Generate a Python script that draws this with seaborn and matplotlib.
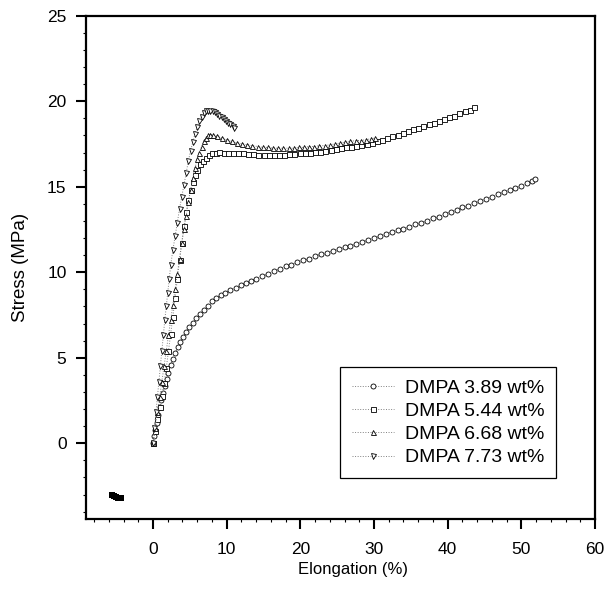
import pandas as pd
import seaborn as sns
import matplotlib
import matplotlib.pyplot as plt
from matplotlib.ticker import MultipleLocator

# Use a non-interactive backend
matplotlib.use('Agg')

sns.set_style('ticks')
plt.rcParams['font.family'] = ['Liberation Sans', 'DejaVu Sans']
plt.rcParams['text.color'] = 'black'
plt.rcParams['axes.labelcolor'] = 'black'

# Stress-strain data (elongation %, stress MPa)
x_389 = [0, 0.15, 0.3, 0.5, 0.7, 0.9, 1.1, 1.35, 1.6, 1.85, 2.1, 2.4, 2.7, 3.0, 3.35, 3.7, 4.1, 4.5, 4.95, 5.4,
         5.9, 6.4, 6.9, 7.45, 8.0, 8.6, 9.2, 9.8, 10.5, 11.2, 11.9, 12.6, 13.3, 14.0, 14.8, 15.6, 16.4, 17.2, 18.0, 18.8,
         19.6, 20.4, 21.2, 22.0, 22.8, 23.6, 24.4, 25.2, 26.0, 26.8, 27.6, 28.4, 29.2, 30.0, 30.8, 31.6, 32.4, 33.2, 34.0, 34.8,
         35.6, 36.4, 37.2, 38.0, 38.8, 39.6, 40.4, 41.2, 42.0, 42.8, 43.6, 44.4, 45.2, 46.0, 46.8, 47.6, 48.4, 49.2, 50.0, 50.8,
         51.5, 51.9]
y_389 = [0, 0.4, 0.75, 1.2, 1.65, 2.1, 2.5, 2.95, 3.35, 3.75, 4.1, 4.55, 4.9, 5.25, 5.6, 5.9, 6.2, 6.5, 6.8, 7.05,
         7.3, 7.55, 7.8, 8.05, 8.3, 8.5, 8.65, 8.8, 8.95, 9.1, 9.25, 9.35, 9.5, 9.6, 9.75, 9.9, 10.05, 10.2, 10.35, 10.45,
         10.6, 10.7, 10.8, 10.95, 11.05, 11.15, 11.25, 11.35, 11.45, 11.55, 11.65, 11.75, 11.9, 12.0, 12.1, 12.25, 12.35, 12.45, 12.55, 12.65,
         12.8, 12.9, 13.0, 13.15, 13.25, 13.4, 13.55, 13.65, 13.8, 13.9, 14.05, 14.15, 14.3, 14.4, 14.55, 14.7, 14.8, 14.95, 15.05, 15.2,
         15.35, 15.45]

x_544 = [0, 0.3, 0.6, 0.9, 1.2, 1.5, 1.8, 2.1, 2.4, 2.7, 3.0, 3.3, 3.6, 3.9, 4.2, 4.5, 4.8, 5.1, 5.4, 5.7,
         6.0, 6.4, 6.8, 7.2, 7.6, 8.0, 8.5, 9.0, 9.6, 10.2, 10.8, 11.5, 12.2, 12.9, 13.6, 14.3, 15.0, 15.7, 16.4, 17.1,
         17.8, 18.5, 19.2, 19.9, 20.6, 21.3, 22.0, 22.7, 23.4, 24.1, 24.8, 25.5, 26.2, 26.9, 27.6, 28.3, 29.0, 29.7, 30.4, 31.1,
         31.8, 32.5, 33.2, 33.9, 34.6, 35.3, 36.0, 36.7, 37.4, 38.1, 38.8, 39.5, 40.2, 40.9, 41.6, 42.3, 43.0, 43.6]
y_544 = [0, 0.7, 1.4, 2.1, 2.75, 3.5, 4.4, 5.4, 6.4, 7.4, 8.5, 9.6, 10.7, 11.7, 12.7, 13.5, 14.2, 14.8, 15.3, 15.7,
         16.0, 16.3, 16.5, 16.7, 16.85, 16.95, 17.0, 17.05, 17.0, 17.0, 17.0, 16.95, 16.95, 16.9, 16.9, 16.85, 16.85, 16.85, 16.85, 16.85,
         16.85, 16.9, 16.9, 16.95, 16.95, 17.0, 17.05, 17.05, 17.1, 17.15, 17.2, 17.25, 17.3, 17.35, 17.4, 17.45, 17.5, 17.55, 17.65, 17.75,
         17.85, 17.95, 18.05, 18.15, 18.25, 18.35, 18.45, 18.55, 18.65, 18.75, 18.85, 18.95, 19.05, 19.15, 19.3, 19.4, 19.5, 19.65]

x_668 = [0, 0.3, 0.6, 0.9, 1.2, 1.5, 1.8, 2.1, 2.4, 2.7, 3.0, 3.3, 3.6, 3.9, 4.2, 4.5, 4.8, 5.1, 5.4, 5.7,
         6.0, 6.3, 6.6, 6.9, 7.2, 7.5, 7.8, 8.2, 8.7, 9.3, 10.0, 10.7, 11.4, 12.1, 12.8, 13.5, 14.2, 14.9, 15.6, 16.3,
         17.0, 17.7, 18.4, 19.1, 19.8, 20.5, 21.2, 21.9, 22.6, 23.3, 24.0, 24.7, 25.4, 26.1, 26.8, 27.5, 28.2, 28.9, 29.6, 30.2]
y_668 = [0, 0.9, 1.8, 2.7, 3.6, 4.5, 5.4, 6.3, 7.2, 8.1, 9.0, 9.9, 10.8, 11.7, 12.5, 13.3, 14.1, 14.8, 15.5, 16.1,
         16.6, 17.0, 17.35, 17.65, 17.85, 18.0, 18.05, 18.0, 17.95, 17.85, 17.75, 17.65, 17.55, 17.5, 17.45, 17.4, 17.35, 17.3, 17.3, 17.25,
         17.25, 17.25, 17.25, 17.25, 17.3, 17.3, 17.35, 17.35, 17.4, 17.4, 17.45, 17.5, 17.55, 17.6, 17.65, 17.7, 17.7, 17.75, 17.8, 17.85]

x_773 = [0, 0.2, 0.4, 0.6, 0.8, 1.0, 1.2, 1.4, 1.6, 1.8, 2.0, 2.2, 2.4, 2.7, 3.0, 3.3, 3.6, 3.9, 4.2, 4.5,
         4.8, 5.1, 5.4, 5.7, 6.0, 6.3, 6.6, 6.9, 7.2, 7.5, 7.8, 8.1, 8.4, 8.7, 9.0, 9.3, 9.6, 9.9, 10.2, 10.5,
         10.8, 11.0]
y_773 = [0, 0.9, 1.8, 2.7, 3.6, 4.5, 5.4, 6.3, 7.2, 8.0, 8.8, 9.6, 10.4, 11.3, 12.1, 12.9, 13.7, 14.4, 15.1, 15.8,
         16.5, 17.1, 17.6, 18.1, 18.5, 18.85, 19.1, 19.3, 19.4, 19.45, 19.45, 19.4, 19.35, 19.25, 19.15, 19.05, 18.95, 18.85, 18.75, 18.65,
         18.55, 18.45]

# small stray blob in the lower-left corner of the original
stray_x = [-5.6, -5.3, -5.0, -4.7, -4.4]
stray_y = [-3.05, -3.1, -3.15, -3.2, -3.2]

labels = ['DMPA 3.89 wt%', 'DMPA 5.44 wt%', 'DMPA 6.68 wt%', 'DMPA 7.73 wt%']
markers = ['o', 's', '^', 'v']
series = [(x_389, y_389), (x_544, y_544), (x_668, y_668), (x_773, y_773)]

fig = plt.figure(figsize=(6.08, 5.95), dpi=100)
ax = fig.add_axes([0.1414, 0.1272, 0.8372, 0.8464])

for (xs, ys), lab, m in zip(series, labels, markers):
    df = pd.DataFrame({'Elongation': xs, 'Stress': ys})
    sns.lineplot(data=df, x='Elongation', y='Stress', ax=ax, sort=False, estimator=None,
                 color='0.5', linestyle=':', linewidth=0.7, marker=m, markersize=3.6,
                 markerfacecolor='white', markeredgecolor='black', markeredgewidth=0.6,
                 label=lab)

sns.scatterplot(x=stray_x, y=stray_y, ax=ax, marker='s', s=14, color='black', linewidth=0, legend=False)

ax.set_xlim(-9.1, 60)
ax.set_ylim(-4.45, 25)
ax.set_xticks(range(0, 61, 10))
ax.set_yticks(range(0, 26, 5))
ax.xaxis.set_minor_locator(MultipleLocator(2))
ax.yaxis.set_minor_locator(MultipleLocator(1))
ax.tick_params(which='major', direction='out', length=7, width=1.5, labelsize=12.5,
               colors='black', labelcolor='black')
ax.tick_params(which='minor', direction='out', length=2.5, width=0.8, colors='black')
ax.tick_params(axis='x', which='major', pad=9)
ax.tick_params(axis='y', which='major', pad=7)

for sp in ax.spines.values():
    sp.set_visible(True)
    sp.set_linewidth(1.6)
    sp.set_color('black')

ax.set_xlabel('Elongation (%)', fontsize=12, color='black')
ax.xaxis.label.set_x(0.524)
ax.set_ylabel('Stress (MPa)', fontsize=13.5, color='black')
ax.yaxis.set_label_coords(-0.112, 0.5)

leg = ax.legend(loc='lower left', bbox_to_anchor=(0.499, 0.082), borderaxespad=0, fontsize=14,
                frameon=True, fancybox=False, edgecolor='black', framealpha=1,
                handlelength=2.2, handletextpad=0.55, labelspacing=0.29, borderpad=0.6)
leg.get_frame().set_linewidth(0.9)
for t in leg.get_texts():
    t.set_color('black')

fig.savefig('out.png', dpi=100)
